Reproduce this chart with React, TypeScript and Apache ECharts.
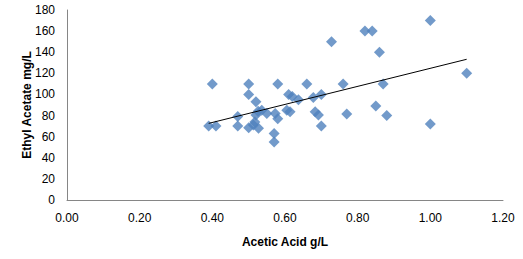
import React, { useEffect, useRef } from "react";
import * as echarts from "echarts";

const aceticAcid = [
  0.39, 0.41, 0.40, 0.47, 0.47, 0.50, 0.50, 0.50, 0.52, 0.52, 0.536, 0.55, 0.517, 0.527, 0.513,
  0.526, 0.573, 0.58, 0.58, 0.57, 0.57, 0.605, 0.614, 0.61, 0.62, 0.637, 0.66, 0.678, 0.70,
  0.683, 0.692, 0.70, 0.76, 0.77, 0.85, 0.87, 0.88, 0.728, 0.82, 0.84, 0.86, 1.0, 1.10, 1.0,
];
const ethylAcetate = [
  70, 70, 110, 79, 70, 110, 100, 68.5, 93, 80.5, 85, 82, 74, 68, 71,
  84, 82, 77, 110, 63, 55, 85, 83.6, 100, 98, 95, 110, 97, 100,
  83.7, 80.5, 70, 110, 81.5, 89, 110, 80, 150, 160, 160, 140, 170, 120, 72,
];
const trendX = [0.39, 1.1];
const trendY = [72.6, 133.3];
const xTicks = { min: 0, max: 1.2, interval: 0.2 };
const yTicks = { min: 0, max: 180, interval: 20 };

export default function App() {
  const ref = useRef<HTMLDivElement>(null);
  useEffect(() => {
    if (!ref.current) return;
    const chart = echarts.init(ref.current, null, { renderer: "svg" });
    const font = "'Liberation Sans', Arial, sans-serif";
    chart.setOption({
      animation: false,
      textStyle: { fontFamily: font },
      grid: { left: 67, right: 20, top: 10, bottom: 59 },
      xAxis: {
        type: "value",
        ...xTicks,
        name: "Acetic Acid g/L",
        nameLocation: "middle",
        nameGap: 36,
        nameMoveOverlap: false,
        nameTextStyle: { fontWeight: "bold", fontSize: 12, color: "#000", fontFamily: font },
        axisLine: { show: true, lineStyle: { color: "#868686", width: 1 } },
        axisTick: { show: false },
        splitLine: { show: false },
        axisLabel: {
          margin: 12,
          fontSize: 12,
          color: "#000",
          fontFamily: font,
          formatter: (v: number) => v.toFixed(2),
        },
      },
      yAxis: {
        type: "value",
        ...yTicks,
        name: "Ethyl Acetate mg/L",
        nameLocation: "middle",
        nameGap: 40,
        nameRotate: 90,
        nameMoveOverlap: false,
        nameTextStyle: {
          fontWeight: "bold",
          fontSize: 12,
          color: "#000",
          fontFamily: font,
          verticalAlign: "middle",
        },
        axisLine: { show: true, lineStyle: { color: "#868686", width: 1 } },
        axisTick: { show: false },
        splitLine: { show: false },
        axisLabel: { margin: 12, fontSize: 12, color: "#000", fontFamily: font },
      },
      series: [
        {
          type: "scatter",
          symbol: "diamond",
          symbolSize: 11,
          itemStyle: { color: "#4F81BD" },
          data: aceticAcid.map((x, i) => [x, ethylAcetate[i]]),
        },
        {
          type: "line",
          symbol: "none",
          lineStyle: { color: "#000", width: 1 },
          data: trendX.map((x, i) => [x, trendY[i]]),
          z: 3,
        },
      ],
    });
    return () => chart.dispose();
  }, []);
  return <div ref={ref} style={{ width: 523, height: 259, position: "absolute", left: 0, top: 0 }} />;
}
